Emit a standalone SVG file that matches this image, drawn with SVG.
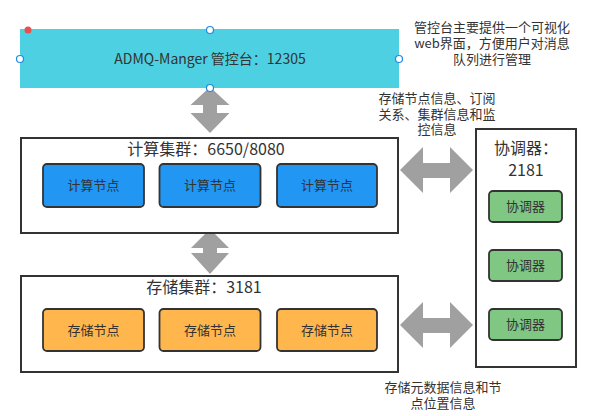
<svg xmlns="http://www.w3.org/2000/svg" width="590" height="416" viewBox="0 0 590 416">
<style>
text{font-family:"Noto Sans CJK SC","Liberation Sans",sans-serif;fill:#333;text-anchor:middle}
.cluster{fill:#fff;stroke:#333;stroke-width:2}
.node{stroke:#333;stroke-width:1.8}
.comp{fill:#2196F3}
.stor{fill:#FFB74D}
.coord{fill:#81C784}
.arrow{fill:#a0a0a0}
.t13{font-size:13px}
.t16{font-size:16px}
.handle{fill:#fff;stroke:#1e88e5;stroke-width:1.2}
</style>
<rect width="590" height="416" fill="#fff"/>
<g id="connectors">
<polygon class="arrow" points="210,87 229.5,105 217,105 217,113 229.5,113 210,133 190.5,113 203,113 203,105 190.5,105"/>
<polygon class="arrow" points="210,229 229,248 217,248 217,253 229,253 210,274 191,253 203,253 203,248 191,248"/>
<polygon class="arrow" points="400,170 423,147 423,163 450,163 450,147 473,170 450,193 450,178 423,178 423,193"/>
<polygon class="arrow" points="400,325 423,302 423,318 450,318 450,302 473,325 450,348 450,333 423,333 423,348"/>
</g>
<g id="console">
<rect x="20" y="29" width="379" height="59" fill="#4DD0E1"/>
<text x="210" y="64" style="font-size:14px">ADMQ-Manger 管控台：12305</text>
<circle cx="28" cy="30" r="3.5" fill="#e85050"/>
<circle class="handle" cx="210" cy="30" r="3.5"/>
<circle class="handle" cx="20" cy="59" r="3.5"/>
<circle class="handle" cx="399" cy="59" r="3.5"/>
<circle class="handle" cx="210" cy="88" r="3.5"/>
</g>
<g id="console-note">
<text class="t13" x="492" y="32">管控台主要提供一个可视化</text>
<text class="t13" x="492" y="48">web界面，方便用户对消息</text>
<text class="t13" x="492" y="64">队列进行管理</text>
</g>
<g id="compute-cluster">
<rect class="cluster" x="21" y="138" width="377" height="95"/>
<text class="t16" x="206" y="155">计算集群：6650/8080</text>
</g>
<g id="compute-node-1"><rect class="node comp" x="43" y="164" width="101" height="43" rx="4"/><text class="t13" x="93.5" y="190">计算节点</text></g>
<g id="compute-node-2"><rect class="node comp" x="159.5" y="164" width="101" height="43" rx="4"/><text class="t13" x="210" y="190">计算节点</text></g>
<g id="compute-node-3"><rect class="node comp" x="277" y="164" width="100" height="43" rx="4"/><text class="t13" x="327" y="190">计算节点</text></g>
<g id="storage-cluster">
<rect class="cluster" x="21" y="276" width="377" height="96"/>
<text class="t16" x="204" y="293">存储集群：3181</text>
</g>
<g id="storage-node-1"><rect class="node stor" x="43" y="309" width="101" height="42" rx="4"/><text class="t13" x="93.5" y="335">存储节点</text></g>
<g id="storage-node-2"><rect class="node stor" x="159.5" y="309" width="101" height="42" rx="4"/><text class="t13" x="210" y="335">存储节点</text></g>
<g id="storage-node-3"><rect class="node stor" x="277" y="309" width="100" height="42" rx="4"/><text class="t13" x="327" y="335">存储节点</text></g>
<g id="coordinator-cluster">
<rect class="cluster" x="476" y="129" width="100" height="238"/>
<text class="t16" x="526" y="154">协调器：</text>
<text class="t16" x="526" y="176">2181</text>
</g>
<g id="coordinator-1"><rect class="node coord" x="489" y="191" width="73" height="31" rx="4"/><text class="t13" x="525.5" y="211">协调器</text></g>
<g id="coordinator-2"><rect class="node coord" x="489" y="250" width="73" height="31" rx="4"/><text class="t13" x="525.5" y="270">协调器</text></g>
<g id="coordinator-3"><rect class="node coord" x="489" y="309" width="73" height="31" rx="4"/><text class="t13" x="525.5" y="329">协调器</text></g>
<g id="compute-coord-label">
<text class="t13" x="437" y="103">存储节点信息、订阅</text>
<text class="t13" x="437" y="119">关系、集群信息和监</text>
<text class="t13" x="437" y="134">控信息</text>
</g>
<g id="storage-coord-label">
<text class="t13" x="443" y="392">存储元数据信息和节</text>
<text class="t13" x="443" y="408">点位置信息</text>
</g>
</svg>
